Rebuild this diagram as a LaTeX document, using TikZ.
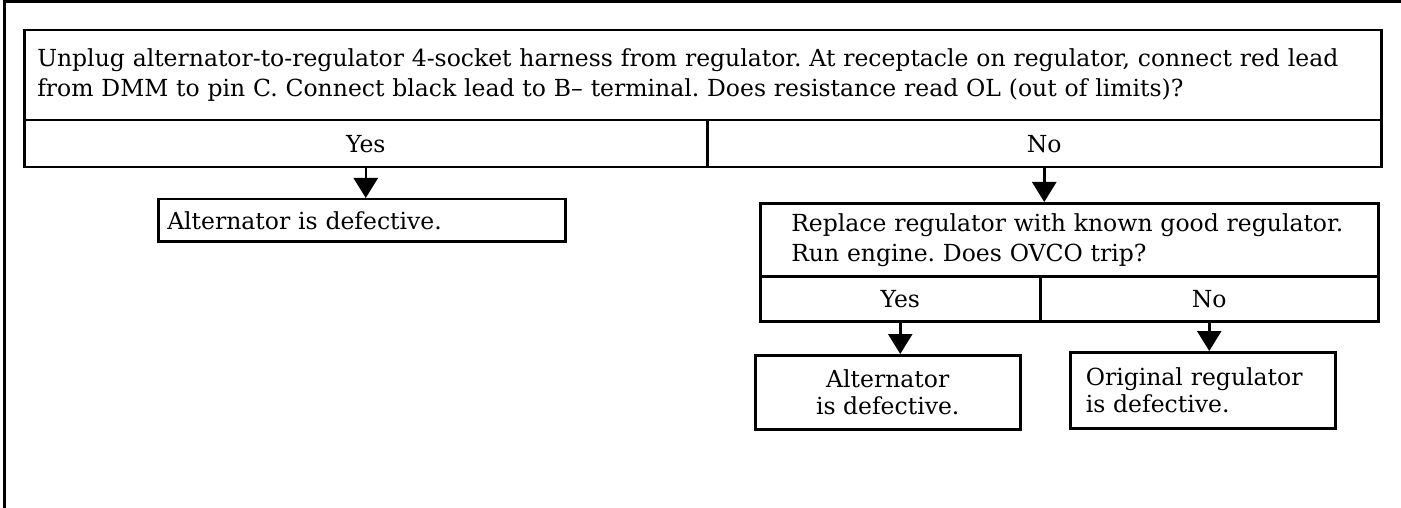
\documentclass[tikz,border=0pt]{standalone}
\usepackage{fontspec}
\setmainfont{DejaVu Serif}
\usetikzlibrary{arrows.meta}
\frenchspacing
\tikzstyle{box}=[draw,line width=2.5pt,rectangle,inner sep=0pt,anchor=north west,font=\fontsize{23.5}{30}\selectfont]
\tikzstyle{smallbox}=[box,font=\fontsize{23.5}{27}\selectfont]
\tikzstyle{arrow}=[draw,line width=2.5pt,-{Triangle[width=24pt,length=20pt]}]

\begin{document}
\begin{tikzpicture}[x=1pt,y=-1pt]
    \useasboundingbox (0,0) rectangle (1401,508);
    % cadre
    \draw[line width=3pt] (4,508) -- (4,1.5) -- (1401,1.5);
    % question
    \node[box,minimum width=1357pt,minimum height=90pt,text width=1331pt,align=left] (q1) at (23,29)
        {Unplug alternator-to-regulator 4-socket harness from regulator. At receptacle on regulator, connect red lead\\
         from DMM to pin C. Connect black lead to B-- terminal. Does resistance read OL (out of limits)?};
    \node[box,minimum width=683pt,minimum height=47pt] (y1) at (23,119) {Yes};
    \node[box,minimum width=674pt,minimum height=47pt] (n1) at (706,119) {No};
    % reponses
    \node[box,minimum width=407pt,minimum height=42pt,text width=389pt,align=left] (a1) at (157,198) {Alternator is defective.};
    \node[box,minimum width=618pt,minimum height=73pt,text width=556pt,align=left] (q2) at (759,202)
        {Replace regulator with known good regulator.\\ Run engine. Does OVCO trip?};
    \node[box,minimum width=280pt,minimum height=45pt] (y2) at (759,275) {Yes};
    \node[box,minimum width=338pt,minimum height=45pt] (n2) at (1039,275) {No};
    \node[smallbox,minimum width=265pt,minimum height=74pt,align=center] (a2) at (754,354) {Alternator\\ is defective.};
    \node[smallbox,minimum width=265pt,minimum height=76pt,text width=234pt,align=left] (r2) at (1069,351) {Original regulator\\ is defective.};
    % fleches
    \path[arrow] (y1.south) -- (y1.south |- a1.north);
    \path[arrow] (n1.south) -- (n1.south |- q2.north);
    \path[arrow] (y2.south) -- (y2.south |- a2.north);
    \path[arrow] (n2.south) -- (n2.south |- r2.north);
\end{tikzpicture}
\end{document}
